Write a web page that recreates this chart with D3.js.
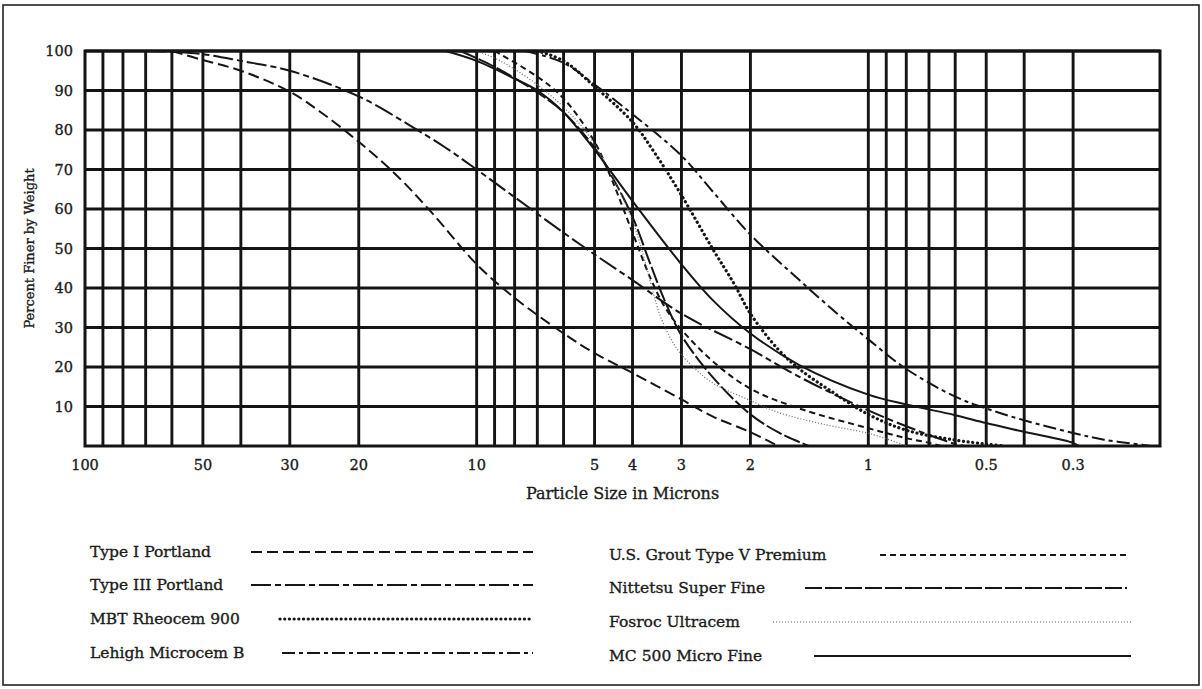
<!DOCTYPE html>
<html>
<head>
<meta charset="utf-8">
<script src="https://cdn.jsdelivr.net/npm/d3@7"></script>
<style>
  html, body { margin: 0; padding: 0; background: #fff; }
  svg { display: block; }
  text { font-family: "DejaVu Serif", "Liberation Serif", serif; fill: #1c1c1c; stroke: #1c1c1c; stroke-width: 0.35px; }
</style>
</head>
<body>
<svg id="chart" width="1202" height="689"></svg>
<script>
// Axis values
const xTickLabels = [100, 50, 30, 20, 10, 5, 4, 3, 2, 1, 0.5, 0.3]
const xGridValues = [90, 80, 70, 60, 50, 40, 30, 20, 10, 9, 8, 7, 6, 5, 4, 3, 2, 1,
  0.9, 0.8, 0.7, 0.6, 0.5, 0.4, 0.3]
const yTickValues = [10, 20, 30, 40, 50, 60, 70, 80, 90, 100]

// [particle size in microns, percent finer]
const typeIPortland = [[60, 100], [50, 97.7], [40, 95], [30, 89.7], [25, 84.5], [20, 77], [16, 68.5],
  [13, 59], [10, 46], [8, 37.5], [6, 28.5], [5, 23.5], [4, 18.5], [3, 11.8], [2.5, 7.5], [2, 3.5],
  [1.7, 0]]
const typeIIIPortland = [[70, 100], [60, 99.8], [50, 99.2], [40, 97.5], [30, 95], [20, 88.5],
  [15, 81.5], [12, 75.5], [10, 70], [8, 63], [6, 54], [5, 48.5], [4, 42], [3, 33.5], [2, 24.5],
  [1.5, 17.5], [1, 9], [0.8, 5], [0.7, 2.8], [0.6, 0.5], [0.57, 0]]
const mbtRheocem = [[7, 100], [6, 97.5], [5, 91], [4, 82], [3.5, 74], [3, 63.5], [2.5, 50],
  [2.2, 41], [2, 33.5], [1.7, 24.5], [1.5, 19.5], [1.25, 14], [1, 8], [0.8, 4], [0.6, 1.5],
  [0.5, 0.5], [0.45, 0]]
const lehighMicrocem = [[7.5, 100], [6, 97], [5, 91.5], [4, 84], [3, 73.5], [2.5, 64.5], [2, 53.5],
  [1.5, 42], [1.2, 33.5], [1, 27], [0.8, 19.5], [0.6, 12.5], [0.5, 9.5], [0.4, 6.5], [0.3, 3.3],
  [0.25, 1.6], [0.2, 0.3], [0.19, 0]]
const usGrout = [[9, 100], [7, 93.5], [6, 88], [5, 77], [4.5, 67], [4, 54], [3.6, 42.5], [3.3, 35],
  [3, 29.5], [2.5, 21.5], [2, 14.5], [1.5, 9.5], [1, 4.5], [0.8, 2], [0.7, 0.8], [0.65, 0]]
const nittetsu = [[11, 100], [9, 96], [7, 89.5], [6, 84.5], [5, 75.5], [4.5, 68], [4, 58],
  [3.6, 46], [3.3, 36.5], [3, 28], [2.5, 17.5], [2, 8], [1.7, 3.5], [1.5, 1], [1.42, 0]]
const fosrocUltracem = [[10, 100], [8.7, 97.5], [6.8, 90.5], [5.4, 81], [4.65, 71], [4, 57],
  [3.7, 46], [3.4, 33], [3.1, 25], [2.8, 20], [2.5, 16], [2, 11.5], [1.7, 8.5], [1.3, 5.5],
  [1, 3.2], [0.85, 1], [0.8, 0]]
const mc500 = [[12, 100], [10, 97.5], [8, 93], [7, 90], [6, 84.5], [5, 75], [4, 62], [3, 46],
  [2.5, 37], [2, 28.5], [1.5, 20.5], [1, 13], [0.8, 10.5], [0.6, 7.8], [0.5, 5.8], [0.4, 3.6],
  [0.3, 0.8], [0.29, 0]]

const seriesNames = ["Type I Portland", "Type III Portland", "MBT Rheocem 900", "Lehigh Microcem B",
  "U.S. Grout Type V Premium", "Nittetsu Super Fine", "Fosroc Ultracem", "MC 500 Micro Fine"]
const seriesData = [typeIPortland, typeIIIPortland, mbtRheocem, lehighMicrocem,
  usGrout, nittetsu, fosrocUltracem, mc500]

// line look for each series, same order as seriesNames
const lineStyles = [
  { dash: "11,5", width: 2, color: "#161616" },
  { dash: "20,4,6,4", width: 2, color: "#161616" },
  { dash: "0.1,4.6", width: 3.2, color: "#161616", cap: "round" },
  { dash: "13,4,4,4", width: 2, color: "#161616" },
  { dash: "6,4", width: 2, color: "#161616" },
  { dash: "17,3", width: 2, color: "#161616" },
  { dash: "1,2", width: 1.2, color: "#666" },
  { dash: null, width: 2, color: "#161616" }
]

const width = 1202, height = 689
const margin = { left: 85, right: 42, top: 51, bottom: 243 }
const plotW = width - margin.left - margin.right
const plotH = height - margin.top - margin.bottom

const svg = d3.select("#chart")

const x = d3.scaleLog().domain([100, 0.18]).range([margin.left, margin.left + plotW])
const y = d3.scaleLinear().domain([0, 100]).range([margin.top + plotH, margin.top])

// outer frame
svg.append("rect")
  .attr("x", 3).attr("y", 5)
  .attr("width", width - 6).attr("height", height - 9)
  .attr("fill", "none").attr("stroke", "#222").attr("stroke-width", 1.6)

svg.append("defs").append("clipPath").attr("id", "plot-clip")
  .append("rect")
  .attr("x", margin.left).attr("y", margin.top)
  .attr("width", plotW).attr("height", plotH)

const grid = svg.append("g").attr("stroke", "#141414").attr("stroke-width", 2.9)

grid.selectAll("line.v")
  .data(xGridValues)
  .join("line")
  .attr("class", "v")
  .attr("x1", d => x(d)).attr("x2", d => x(d))
  .attr("y1", margin.top).attr("y2", margin.top + plotH)

grid.selectAll("line.h")
  .data(yTickValues)
  .join("line")
  .attr("class", "h")
  .attr("x1", margin.left).attr("x2", margin.left + plotW)
  .attr("y1", d => y(d)).attr("y2", d => y(d))

grid.append("rect")
  .attr("x", margin.left).attr("y", margin.top)
  .attr("width", plotW).attr("height", plotH)
  .attr("fill", "none").attr("stroke-width", 3)

// tick labels
svg.append("g")
  .selectAll("text")
  .data(yTickValues)
  .join("text")
  .attr("x", margin.left - 12)
  .attr("y", d => y(d))
  .attr("dy", "0.36em")
  .attr("text-anchor", "end")
  .style("font-size", "14.5px")
  .text(d => d)

svg.append("g")
  .selectAll("text")
  .data(xTickLabels)
  .join("text")
  .attr("x", d => x(d))
  .attr("y", margin.top + plotH + 24)
  .attr("text-anchor", "middle")
  .style("font-size", "14.5px")
  .text(d => d)

svg.append("text")
  .attr("x", margin.left + plotW / 2)
  .attr("y", 499)
  .attr("text-anchor", "middle")
  .style("font-size", "16px")
  .text("Particle Size in Microns")

svg.append("text")
  .attr("transform", `translate(34, ${margin.top + plotH / 2}) rotate(-90)`)
  .attr("text-anchor", "middle")
  .style("font-size", "13px")
  .text("Percent Finer by Weight")

// curves
const line = d3.line()
  .x(d => x(d[0]))
  .y(d => y(d[1]))
  .curve(d3.curveCatmullRom.alpha(0.5))

const curves = svg.append("g").attr("clip-path", "url(#plot-clip)")
curves.selectAll("path")
  .data(seriesData)
  .join("path")
  .attr("d", line)
  .attr("fill", "none")
  .attr("stroke", (d, i) => lineStyles[i].color)
  .attr("stroke-width", (d, i) => lineStyles[i].width)
  .attr("stroke-dasharray", (d, i) => lineStyles[i].dash)
  .attr("stroke-linecap", (d, i) => lineStyles[i].cap || "butt")

// legend, two columns of four
const legendRows = [552, 585, 619, 653]
const legendLayout = [
  { tx: 90, x1: 251, x2: 533 },
  { tx: 90, x1: 251, x2: 533 },
  { tx: 90, x1: 280, x2: 533 },
  { tx: 90, x1: 282, x2: 533 },
  { tx: 609, x1: 880, x2: 1127 },
  { tx: 609, x1: 805, x2: 1127 },
  { tx: 609, x1: 773, x2: 1131 },
  { tx: 609, x1: 814, x2: 1131 }
]

const legend = svg.append("g")
  .selectAll("g")
  .data(seriesNames)
  .join("g")
  .attr("transform", (d, i) => `translate(0, ${legendRows[i % 4] + (i >= 4 ? 3 : 0)})`)

legend.append("text")
  .attr("x", (d, i) => legendLayout[i].tx)
  .attr("dy", "0.35em")
  .style("font-size", "15.5px")
  .text(d => d)

legend.append("line")
  .attr("x1", (d, i) => legendLayout[i].x1)
  .attr("x2", (d, i) => legendLayout[i].x2)
  .attr("stroke", (d, i) => lineStyles[i].color)
  .attr("stroke-width", (d, i) => lineStyles[i].width)
  .attr("stroke-dasharray", (d, i) => lineStyles[i].dash)
  .attr("stroke-linecap", (d, i) => lineStyles[i].cap || "butt")
</script>
</body>
</html>
